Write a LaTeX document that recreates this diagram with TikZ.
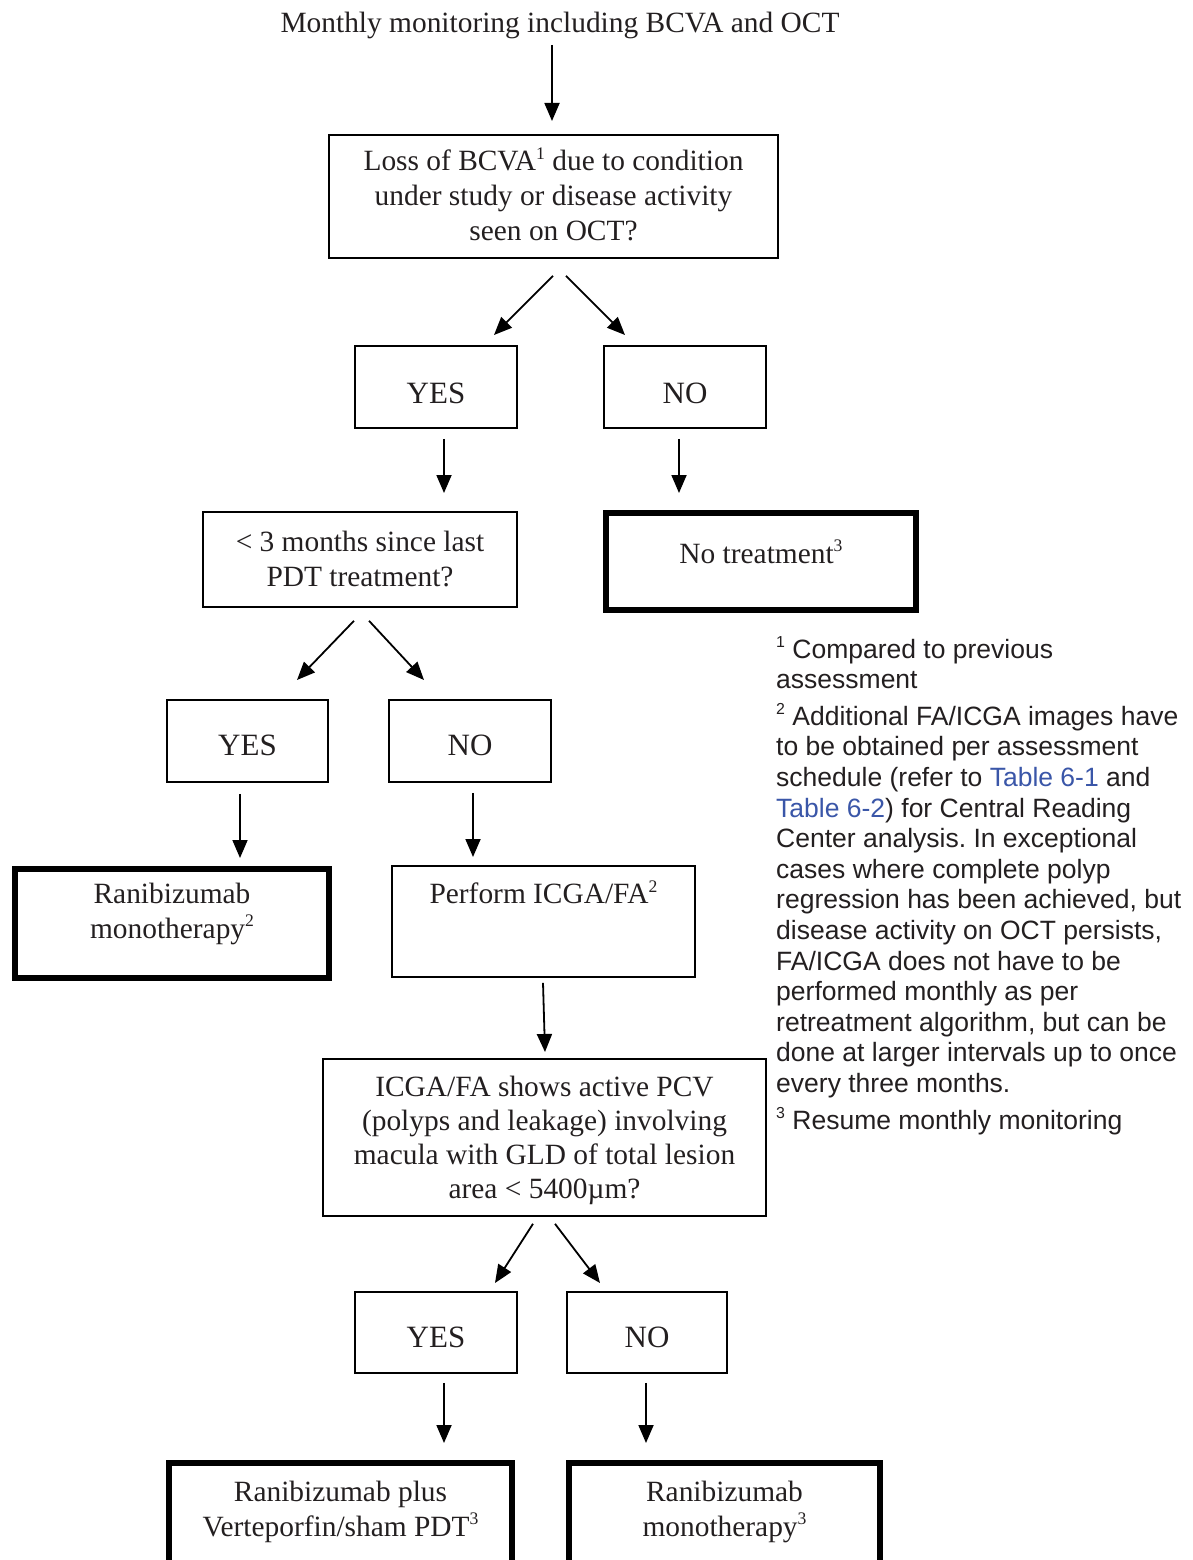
\documentclass[tikz,border=0pt]{standalone}
\usepackage{fontspec}
\usepackage{xcolor}
\usepackage{graphicx}
\usepackage{tikz}
\usetikzlibrary{arrows.meta,calc}
\setmainfont{Liberation Serif}
\newfontfamily\notefont{Liberation Sans}
\definecolor{ink}{RGB}{35,31,32}
\definecolor{xref}{RGB}{58,86,168}
\newcommand{\supnum}[1]{\raisebox{0.4em}{\scalebox{0.6}{#1}}}
\frenchspacing

\begin{document}
\begin{tikzpicture}[x=1pt,y=-1pt,
  box/.style={draw, line width=1.8pt, inner sep=0pt, anchor=north, align=flush center, text=ink, font=\fontsize{29.4}{35}\selectfont},
  heavy/.style={box, line width=6pt},
  answer/.style={box, font=\fontsize{31}{35}\selectfont},
  dims/.style args={#1/#2/#3}{minimum width=#1, text width=#1-16, minimum height=#2, text height=#3, text depth=#2-#3},
  arr/.style={line width=1.8pt, -{Triangle[length=18pt,width=15pt]}}]
\useasboundingbox (0,0) rectangle (1193,1560);
\node[anchor=base, inner sep=0pt, text=ink, font=\fontsize{29.4}{35}\selectfont] (title) at (560,33) {Monthly monitoring including BCVA and OCT};
\node[box, dims=449/123/36] (q1) at (553.5,134) {Loss of BCVA\supnum{1} due to condition\\under study or disease activity\\seen on OCT?};
\node[answer, dims=162/82/58] (yes1) at (436,345) {YES};
\node[answer, dims=162/82/58] (no1) at (685,345) {NO};
\node[box, dims=314/95/40] (q2) at (360,511) {< 3 months since last\\PDT treatment?};
\node[heavy, dims=310/97/50] (none) at (761,510) {No treatment\supnum{3}};
\node[answer, dims=161/82/56] (yes2) at (247.5,699) {YES};
\node[answer, dims=162/82/56] (no2) at (470,699) {NO};
\node[heavy, dims=314/109/34] (mono1) at (172,866) {Ranibizumab\\monotherapy\supnum{2}};
\node[box, dims=303/111/38] (icga) at (543.5,865) {Perform ICGA/FA\supnum{2}};
\node[box, dims=443/157/38, font=\fontsize{29.4}{33.7}\selectfont] (q3) at (544.5,1058) {ICGA/FA shows active PCV\\(polyps and leakage) involving\\macula with GLD of total lesion\\area < 5400µm?};
\node[answer, dims=162/81/56] (yes3) at (436,1291) {YES};
\node[answer, dims=160/81/56] (no3) at (647,1291) {NO};
\node[heavy, dims=343/160/38] (combo) at (340.5,1460) {Ranibizumab plus\\Verteporfin/sham PDT\supnum{3}};
\node[heavy, dims=311/160/38] (mono2) at (724.5,1460) {Ranibizumab\\monotherapy\supnum{3}};
\node[anchor=base west, inner sep=0pt, text width=417, align=flush left, text=ink, font=\notefont\fontsize{26.5}{30.6}\selectfont] (notes) at (776,658) {\supnum{1} Compared to previous\\assessment\\[6pt]\supnum{2} Additional FA/ICGA images have\\to be obtained per assessment\\schedule (refer to \textcolor{xref}{Table 6-1} and\\\textcolor{xref}{Table 6-2}) for Central Reading\\Center analysis. In exceptional\\cases where complete polyp\\regression has been achieved, but\\disease activity on OCT persists,\\FA/ICGA does not have to be\\performed monthly as per\\retreatment algorithm, but can be\\done at larger intervals up to once\\every three months.\\[6pt]\supnum{3} Resume monthly monitoring};
\draw[arr] ($(title.base)+(-8,12)$) -- ($(q1.north)+(-1.5,-13)$);
\draw[arr] ($(q1.south)+(-0.5,17)$) -- ($(yes1.north)+(58,-10)$);
\draw[arr] ($(q1.south)+(12.5,17)$) -- ($(no1.north)+(-60,-10)$);
\draw[arr] ($(yes1.south)+(8,10)$) -- ($(q2.north)+(84,-18)$);
\draw[arr] ($(no1.south)+(-6,10)$) -- ($(none.north)+(-82,-17)$);
\draw[arr] ($(q2.south)+(-6,13)$) -- ($(yes2.north)+(49.5,-19)$);
\draw[arr] ($(q2.south)+(9,13)$) -- ($(no2.north)+(-46,-19)$);
\draw[arr] ($(yes2.south)+(-7.5,11)$) -- ($(mono1.north)+(68,-8)$);
\draw[arr] ($(no2.south)+(3,10)$) -- ($(icga.north)+(-70.5,-8)$);
\draw[arr] ($(icga.south)+(-0.5,5)$) -- ($(q3.north)+(0.5,-6)$);
\draw[arr] ($(q3.south)+(-11.5,7)$) -- ($(yes3.north)+(59,-8)$);
\draw[arr] ($(q3.south)+(10.5,7)$) -- ($(no3.north)+(-47,-8)$);
\draw[arr] ($(yes3.south)+(8,9)$) -- ($(combo.north)+(103.5,-17)$);
\draw[arr] ($(no3.south)+(-1,9)$) -- ($(mono2.north)+(-78.5,-17)$);
\end{tikzpicture}
\end{document}
